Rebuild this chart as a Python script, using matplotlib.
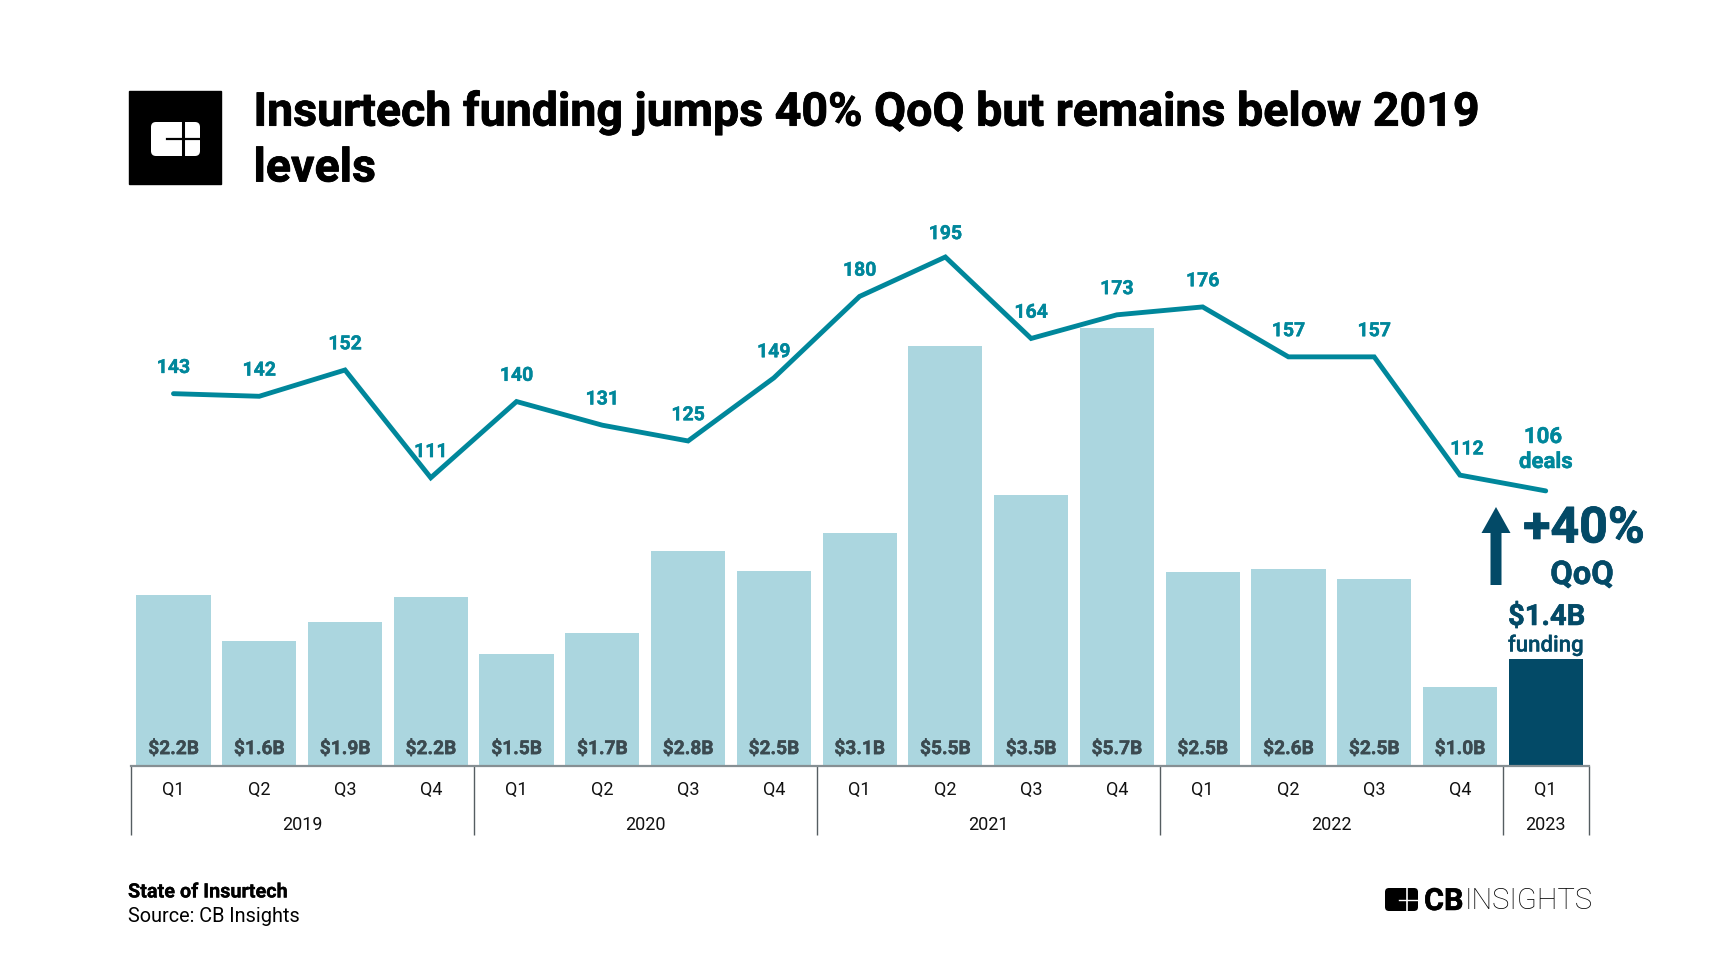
import matplotlib
matplotlib.use('Agg')
import matplotlib.pyplot as plt
import matplotlib.patheffects as pe
from matplotlib.patches import Rectangle, FancyBboxPatch, FancyArrow
from matplotlib.transforms import blended_transform_factory

plt.rcParams['font.family'] = ['Roboto', 'DejaVu Sans']

W, H = 1721, 968

quarters = ['Q1', 'Q2', 'Q3', 'Q4'] * 4 + ['Q1']
years = ['2019', '2020', '2021', '2022', '2023']
quarters_per_year = [4, 4, 4, 4, 1]
funding = [2.23, 1.63, 1.87, 2.20, 1.46, 1.73, 2.80, 2.54, 3.03,
           5.47, 3.53, 5.70, 2.53, 2.57, 2.44, 1.03, 1.39]
funding_labels = ['$2.2B', '$1.6B', '$1.9B', '$2.2B', '$1.5B', '$1.7B', '$2.8B', '$2.5B', '$3.1B',
                  '$5.5B', '$3.5B', '$5.7B', '$2.5B', '$2.6B', '$2.5B', '$1.0B', '$1.4B']
deals = [143, 142, 152, 111, 140, 131, 125, 149, 180,
         195, 164, 173, 176, 157, 157, 112, 106]

LIGHT = '#abd6df'
DARK = '#034a67'
TEAL = '#00879b'
GREY = '#3b4a50'


def px_box(left, top, right, bottom):
    """ Pixel box (from top left of the image) to figure fractions. """
    return [left / W, 1 - bottom / H, (right - left) / W, (bottom - top) / H]


def heavy(color, width=0.3):
    # Roboto bold here is a bit lighter than the reference, thicken it
    return [pe.withStroke(linewidth=width, foreground=color)]


fig = plt.figure(figsize=(W / 100, H / 100), dpi=100, facecolor='white')

# Chart area, bars on one scale and deals on the other
ax = fig.add_axes(px_box(130.6, 200, 1588.6, 766))
ax.set_xlim(-0.5, 16.5)
ax.set_ylim(0, 566 / 76.8)
colors = [LIGHT] * (len(funding) - 1) + [DARK]
xs = list(range(len(funding)))
ax.bar(xs, funding, width=0.865, color=colors, zorder=2)

for s in ['top', 'left', 'right']:
    ax.spines[s].set_visible(False)
ax.spines['bottom'].set_color('#868f93')
ax.spines['bottom'].set_linewidth(1.6)
ax.spines['bottom'].set_zorder(3)
ax.set_yticks([])

ax.set_xticks(xs)
ax.set_xticklabels(quarters, fontsize=13, color='#111111')
ax.tick_params(axis='x', which='major', length=0, pad=10.5)

# Year separators are long minor ticks
edges = [-0.5]
for n in quarters_per_year:
    edges.append(edges[-1] + n)
ax.set_xticks(edges, minor=True)
ax.tick_params(axis='x', which='minor', length=50, width=1, color='#555d61')

trans = blended_transform_factory(ax.transData, ax.transAxes)
for i, year in enumerate(years):
    ax.text((edges[i] + edges[i + 1]) / 2, -58.5 / 566, year, transform=trans,
            ha='center', va='center', fontsize=13, color='#111111')

# Funding labels at the foot of the bars (last one sits on top instead)
for x, lab in zip(xs[:-1], funding_labels[:-1]):
    ax.text(x, 0.22, lab, ha='center', va='center', fontsize=13.8, fontweight='bold',
            color=GREY, zorder=4, path_effects=heavy(GREY))

ax2 = ax.twinx()
ax2.set_ylim(195 - 509 / 2.628, 195 + 57 / 2.628)
ax2.axis('off')
ax2.plot(xs, deals, color=TEAL, lw=3.5, solid_joinstyle='miter', solid_capstyle='round', zorder=5)

for x, d in zip(xs[:-1], deals[:-1]):
    dx = 5 if x == 15 else 0
    dy = 16.5 if d == 195 else 18.5
    ax2.annotate(str(d), (x, d), xytext=(dx, dy), textcoords='offset points', ha='center',
                 va='center', fontsize=14, fontweight='bold', color=TEAL, path_effects=heavy(TEAL))

# Overlay in image pixels for logos, arrow and callouts
ov = fig.add_axes([0, 0, 1, 1], facecolor='none')
ov.set_xlim(0, W)
ov.set_ylim(H, 0)
ov.axis('off')

ov.add_patch(Rectangle((129, 91), 92, 93, color='black'))
ov.add_patch(FancyBboxPatch((154, 125), 43, 28, boxstyle='round,pad=3,rounding_size=5', fc='white', ec='none'))
ov.plot([167, 200], [139, 139], color='black', lw=1.6)
ov.plot([183, 183], [122, 156], color='black', lw=2.2)

title_fx = heavy('black', 0.6)
ov.text(253.5, 112.5, 'Insurtech funding jumps 40% QoQ but remains below 2019', fontsize=33.5,
        fontweight='bold', va='center', color='black', path_effects=title_fx)
ov.text(253.5, 168.5, 'levels', fontsize=33.5, fontweight='bold', va='center', color='black',
        path_effects=title_fx)

ov.add_patch(FancyArrow(1496, 585, 0, -78, width=11, head_width=29, head_length=26,
                        length_includes_head=True, color=DARK, lw=0))
ov.text(1584, 529, '+40%', fontsize=36, fontweight='bold', color=DARK, ha='center', va='center',
        path_effects=heavy(DARK, 0.6))
ov.text(1582, 575, 'QoQ', fontsize=23.5, fontweight='bold', color=DARK, ha='center', va='center',
        path_effects=heavy(DARK, 0.4))
ov.text(1546.5, 617, funding_labels[-1], fontsize=21, fontweight='bold', color=DARK, ha='center', va='center',
        path_effects=heavy(DARK, 0.4))
ov.text(1546, 646, 'funding', fontsize=16, fontweight='medium', color=DARK, ha='center', va='center',
        path_effects=heavy(DARK, 0.2))
ov.text(1543, 437, str(deals[-1]), fontsize=16, fontweight='bold', color=TEAL, ha='center', va='center',
        path_effects=heavy(TEAL))
ov.text(1546, 462, 'deals', fontsize=16, fontweight='bold', color=TEAL, ha='center', va='center',
        path_effects=heavy(TEAL))

ov.text(128, 892, 'State of Insurtech', fontsize=14.3, fontweight='bold', va='center', color='black',
        path_effects=heavy('black', 0.15))
ov.text(128, 916, 'Source: CB Insights', fontsize=14.3, va='center', color='black')

ov.add_patch(FancyBboxPatch((1388, 891), 27, 17, boxstyle='round,pad=3,rounding_size=4', fc='black', ec='none'))
ov.plot([1399, 1418], [899.5, 899.5], color='white', lw=1)
ov.plot([1407, 1407], [888, 911], color='white', lw=1.2)
ov.text(1424, 901, 'CB', fontsize=22, fontweight='bold', va='center', color='black',
        path_effects=heavy('black', 0.4))
ov.text(1465, 901, 'INSIGHTS', fontsize=21, fontweight='light', va='center', color='black')

fig.savefig('out.png', dpi=100)
